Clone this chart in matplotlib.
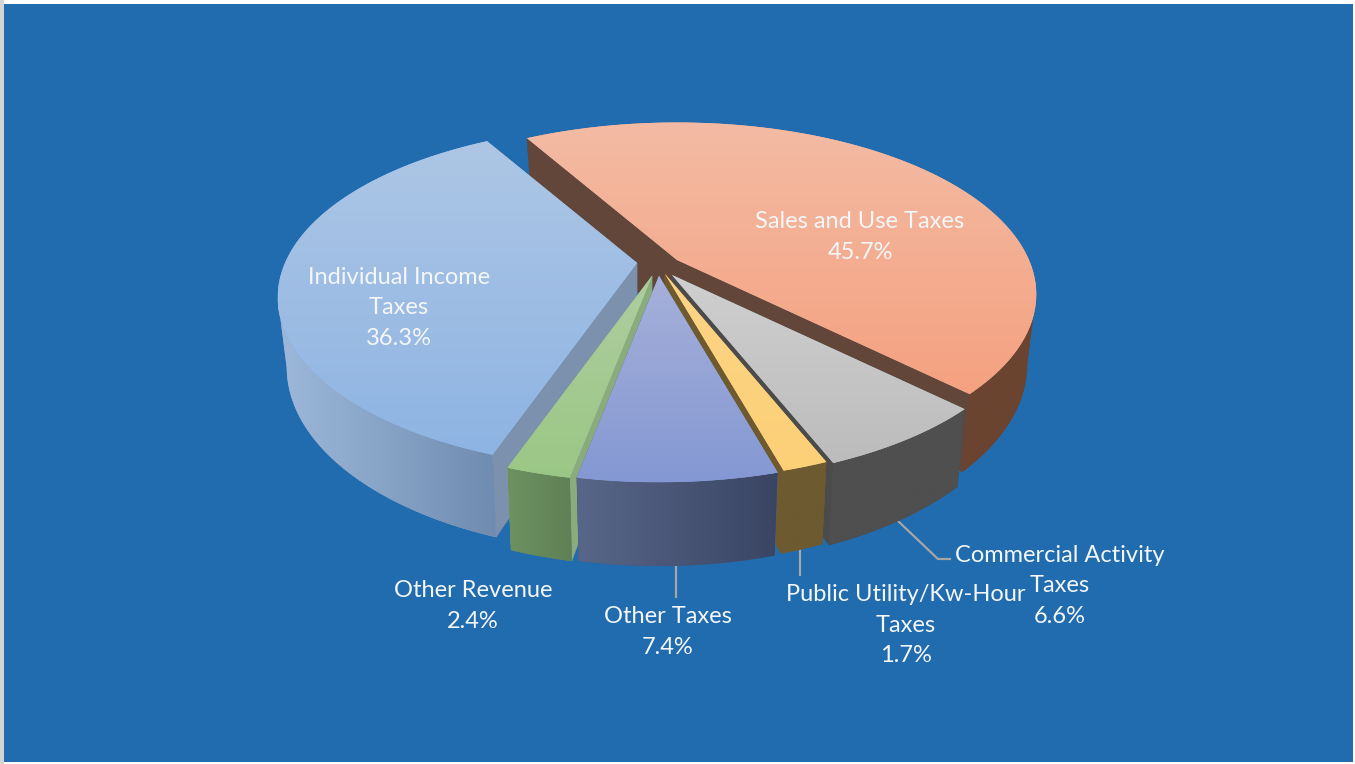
import numpy as np
import matplotlib
matplotlib.use("Agg")
import matplotlib.pyplot as plt
from matplotlib.patches import Polygon, Rectangle
from matplotlib.colors import to_rgb, LinearSegmentedColormap

plt.rcParams['font.family'] = ['Lato', 'DejaVu Sans']

# clockwise from the start of the sales slice
names = ["Sales and Use Taxes", "Commercial Activity\nTaxes", "Public Utility/Kw-Hour\nTaxes",
         "Other Taxes", "Other Revenue", "Individual Income\nTaxes"]
shares = [45.7, 6.6, 1.7, 7.4, 2.4, 36.3]

top_far = ["#f3bba4", "#cfcfcf", "#fdd486", "#a6b0d9", "#aecd9f", "#adc6e5"]
top_near = ["#f5a180", "#bcbcbc", "#fcd077", "#8498d3", "#9bc786", "#8eb4e3"]
rim_right = ["#6b4431", "#4f4f4f", "#6e5a30", "#3a4563", "#5f8055", "#6f8cb0"]
rim_left = ["#6b4431", "#4f4f4f", "#6e5a30", "#586689", "#6d9260", "#9db8da"]
wall = ["#62463a", "#4b4b4b", "#6f5a30", "#5a6a90", "#8aab7c", "#7b91ae"]
# how far each slice sits from the pie centre on screen
shift_x = [17, 12, 5, -1, -8, -23]
shift_y = [-6, 9, 8, 10, 10, -3]
label_pos = [(860, 237), (1060, 586), (906, 625), (668, 632), (473, 606), (399, 308)]
draw_order = [0, 5, 1, 4, 2, 3]

start_angle = -30.0
cx, cy = 660.0, 266.0
R, Ry = 352.0, 165.0
persp = 0.2
depth = 67.0
shrink = 0.975


def project(x, y, z=0.0):
    s = 1 / (1 - persp * y)
    px = R * x * s
    py = Ry * y * s + depth * z * s
    if z:
        px = px * shrink
    return px, py


def plan(theta):
    t = np.radians(theta)
    return np.sin(t), -np.cos(t)


def mix(a, b, f):
    a, b = np.array(to_rgb(a)), np.array(to_rgb(b))
    return tuple(a + (b - a) * f)


def gradient_poly(ax, pts, c0, c1, vertical, z):
    # solid polygon first, gradient image clipped to it on top
    poly = Polygon(pts, closed=True, fc=mix(c0, c1, 0.5), lw=0, zorder=z)
    ax.add_patch(poly)
    cmap = LinearSegmentedColormap.from_list("g", [c0, c1])
    ramp = np.linspace(0, 1, 256)
    ramp = ramp.reshape(-1, 1) if vertical else ramp.reshape(1, -1)
    im = ax.imshow(ramp, cmap=cmap, aspect="auto",
                   extent=[pts[:, 0].min(), pts[:, 0].max(), pts[:, 1].max(), pts[:, 1].min()],
                   zorder=z + 1)
    im.set_clip_path(poly)


fig = plt.figure(figsize=(13.55, 7.64), dpi=100, facecolor="white")
ax = fig.add_axes([0, 0, 1, 1])
ax.axis("off")
ax.add_patch(Rectangle((0, 0), 4, 764, color="#d4d4d4", lw=0, zorder=0))
ax.add_patch(Rectangle((4, 4), 1349, 758, color="#206cae", lw=0, zorder=1))

# leader lines
ax.plot([676, 676], [560, 597], color="#a6a6a6", lw=1.6, zorder=2)
ax.plot([800, 800], [545, 575], color="#a6a6a6", lw=1.6, zorder=2)
ax.plot([898, 938, 950], [521, 559, 559], color="#a6a6a6", lw=1.6, zorder=2)

edges = start_angle + np.cumsum([0] + shares) * 360.0 / sum(shares)

z = 3
for i in draw_order:
    a0, a1 = edges[i], edges[i + 1]
    off = np.array([cx + shift_x[i], cy + shift_y[i]])
    angles = np.linspace(a0, a1, int(abs(a1 - a0)) * 2 + 3)
    xs, ys = plan(angles)
    arc_top = np.array([project(x, y) for x, y in zip(xs, ys)]) + off
    arc_bot = np.array([project(x, y, 1) for x, y in zip(xs, ys)]) + off
    apex_top = np.array(project(0, 0)) + off
    apex_bot = np.array(project(0, 0, 1)) + off

    # flat cut walls
    for k in (0, -1):
        p = np.array([apex_top, arc_top[k], arc_bot[k], apex_bot])
        ax.add_patch(Polygon(p, closed=True, fc=wall[i], ec=wall[i], lw=0.3, zorder=z))
        z += 1

    # outer wall, only from the widest point round to the front
    lo, hi = 0, len(xs) - 1
    ix = np.argmax(arc_top[:, 0])
    if 0 < ix < hi:
        lo = ix
    ix = np.argmin(arc_top[:, 0])
    if 0 < ix < hi:
        hi = ix
    gradient_poly(ax, np.vstack([arc_top[lo:hi + 1], arc_bot[lo:hi + 1][::-1]]),
                  rim_left[i], rim_right[i], False, z)
    z += 2

    # top face
    gradient_poly(ax, np.vstack([apex_top, arc_top]), top_far[i], top_near[i], True, z)
    z += 2

for i in range(len(names)):
    ax.text(label_pos[i][0], label_pos[i][1], f"{names[i]}\n{shares[i]}%", color="#f4f6f8",
            fontsize=17, ha="center", va="center", linespacing=1.58, zorder=z)

ax.set_xlim(0, 1355)
ax.set_ylim(764, 0)
fig.savefig("out.png", dpi=100, facecolor="white")
